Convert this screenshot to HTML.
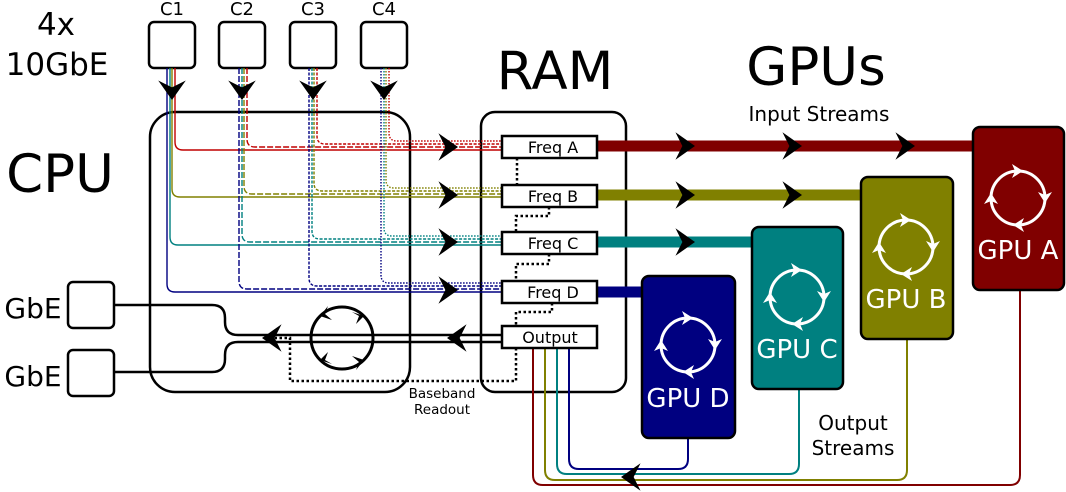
<!DOCTYPE html>
<html><head><meta charset="utf-8"><style>
html,body{margin:0;padding:0;background:#fff;}
svg{display:block;font-family:"DejaVu Sans","Liberation Sans",sans-serif;}
</style></head><body>
<svg width="1066" height="492" viewBox="0 0 1066 492" xmlns="http://www.w3.org/2000/svg">
<defs>
<path id="ar" d="M0,0 L-17,-12 L-11,0 L-17,12 Z" fill="#000"/>
<g id="cyc" fill="none">
<circle cx="0" cy="0" r="27" stroke="#fff" stroke-width="3"/>
<path d="M5,-27 L-6,-34 L-3,-27 L-6,-20 Z" fill="#fff"/>
<path d="M-27,-5 L-34,6 L-27,3 L-20,6 Z" fill="#fff"/>
<path d="M-5,27 L6,34 L3,27 L6,20 Z" fill="#fff"/>
<path d="M27,5 L34,-6 L27,-3 L20,-6 Z" fill="#fff"/>
</g>
<g id="cycb" fill="none">
<circle cx="0" cy="0" r="31" stroke="#000" stroke-width="3"/>
<path d="M-22,-22 L-14,-32 L-17,-24 L-10,-18 Z" fill="#000"/>
<path d="M22,-22 L10,-26 L17,-22 L14,-14 Z" fill="#000"/>
<path d="M-22,22 L-10,26 L-17,22 L-14,14 Z" fill="#000"/>
<path d="M22,22 L14,32 L17,24 L10,18 Z" fill="#000"/>
</g>
</defs>

<!-- labels -->
<text x="56" y="35" font-size="31" text-anchor="middle">4x</text>
<text x="57" y="75" font-size="31" text-anchor="middle">10GbE</text>
<text x="60" y="192" font-size="53" text-anchor="middle">CPU</text>
<text x="555" y="89" font-size="53" text-anchor="middle">RAM</text>
<text x="816" y="85" font-size="53" text-anchor="middle">GPUs</text>
<text x="819" y="121" font-size="20" text-anchor="middle">Input Streams</text>
<text x="33" y="318" font-size="28" text-anchor="middle">GbE</text>
<text x="33" y="386" font-size="28" text-anchor="middle">GbE</text>
<g font-size="18" text-anchor="middle">
<text x="172" y="15">C1</text>
<text x="242" y="15">C2</text>
<text x="313" y="15">C3</text>
<text x="384" y="15">C4</text>
</g>
<text x="442" y="398" font-size="13.5" text-anchor="middle">Baseband</text>
<text x="442" y="414" font-size="13.5" text-anchor="middle">Readout</text>
<text x="853" y="430" font-size="20" text-anchor="middle">Output</text>
<text x="853" y="455" font-size="20" text-anchor="middle">Streams</text>

<!-- CPU and RAM boxes -->
<rect x="150" y="112" width="260" height="280" rx="25" fill="none" stroke="#000" stroke-width="2.5"/>
<rect x="481" y="112" width="145" height="280" rx="14" fill="none" stroke="#000" stroke-width="2.5"/>

<!-- C boxes -->
<g fill="#fff" stroke="#000" stroke-width="2.5">
<rect x="149" y="22" width="46" height="46" rx="5"/>
<rect x="219" y="22" width="46" height="46" rx="5"/>
<rect x="290" y="22" width="46" height="46" rx="5"/>
<rect x="361" y="22" width="46" height="46" rx="5"/>
<rect x="68" y="282" width="46" height="46" rx="5"/>
<rect x="68" y="350" width="46" height="46" rx="5"/>
</g>

<!-- colored input lines -->
<g fill="none" stroke-width="1.4">
<g stroke="#c00000">
<path d="M175,68 V142 Q175,150 183,150 H502"/>
<path d="M247,68 V139 Q247,147 255,147 H502" stroke-dasharray="6,2"/>
<path d="M317,68 V136 Q317,144 325,144 H502" stroke-dasharray="3,1.5"/>
<path d="M389,68 V133 Q389,141 397,141 H502" stroke-dasharray="1.5,1.5"/>
</g>
<g stroke="#808000">
<path d="M172,68 V189 Q172,197 180,197 H502"/>
<path d="M244,68 V186 Q244,194 252,194 H502" stroke-dasharray="6,2"/>
<path d="M314,68 V183 Q314,191 322,191 H502" stroke-dasharray="3,1.5"/>
<path d="M386,68 V180 Q386,188 394,188 H502" stroke-dasharray="1.5,1.5"/>
</g>
<g stroke="#008080">
<path d="M170,68 V237 Q170,245 178,245 H502"/>
<path d="M242,68 V234 Q242,242 250,242 H502" stroke-dasharray="6,2"/>
<path d="M312,68 V231 Q312,239 320,239 H502" stroke-dasharray="3,1.5"/>
<path d="M384,68 V228 Q384,236 392,236 H502" stroke-dasharray="1.5,1.5"/>
</g>
<g stroke="#000080">
<path d="M167,68 V284 Q167,292 175,292 H502"/>
<path d="M239,68 V281 Q239,289 247,289 H502" stroke-dasharray="6,2"/>
<path d="M309,68 V278 Q309,286 317,286 H502" stroke-dasharray="3,1.5"/>
<path d="M381,68 V275 Q381,283 389,283 H502" stroke-dasharray="1.5,1.5"/>
</g>
</g>

<!-- down arrows -->
<use href="#ar" transform="translate(172,100) rotate(90) scale(1.15)"/>
<use href="#ar" transform="translate(242,100) rotate(90) scale(1.15)"/>
<use href="#ar" transform="translate(313,100) rotate(90) scale(1.15)"/>
<use href="#ar" transform="translate(384,100) rotate(90) scale(1.15)"/>
<!-- right arrows into RAM -->
<use href="#ar" transform="translate(458,147) scale(1.15)"/>
<use href="#ar" transform="translate(458,195) scale(1.15)"/>
<use href="#ar" transform="translate(458,242) scale(1.15)"/>
<use href="#ar" transform="translate(458,290) scale(1.15)"/>

<!-- thick input streams -->
<g stroke-width="11">
<line x1="597" y1="146" x2="975" y2="146" stroke="#800000"/>
<line x1="597" y1="195" x2="863" y2="195" stroke="#808000"/>
<line x1="597" y1="242" x2="753" y2="242" stroke="#008080"/>
<line x1="597" y1="292" x2="643" y2="292" stroke="#000080"/>
</g>
<use href="#ar" transform="translate(695,146) scale(1.15)"/>
<use href="#ar" transform="translate(802,146) scale(1.15)"/>
<use href="#ar" transform="translate(915,146) scale(1.15)"/>
<use href="#ar" transform="translate(695,195) scale(1.15)"/>
<use href="#ar" transform="translate(802,195) scale(1.15)"/>
<use href="#ar" transform="translate(695,242) scale(1.15)"/>

<!-- output stream lines -->
<g fill="none" stroke-width="2">
<path d="M533,348 V475 Q533,485 543,485 H1010 Q1020,485 1020,475 V290" stroke="#800000"/>
<path d="M545,348 V470 Q545,480 555,480 H897 Q907,480 907,470 V339" stroke="#808000"/>
<path d="M557,348 V464 Q557,474 567,474 H789 Q799,474 799,464 V389" stroke="#008080"/>
<path d="M569,348 V459 Q569,469 579,469 H678 Q688,469 688,459 V438" stroke="#000080"/>
</g>
<use href="#ar" transform="translate(621,477) rotate(180) scale(1.15)"/>

<!-- GPUs -->
<g stroke="#000" stroke-width="2.5">
<rect x="973" y="127" width="91" height="163" rx="7" fill="#800000"/>
<rect x="861" y="177" width="92" height="162" rx="7" fill="#808000"/>
<rect x="752" y="227" width="91" height="162" rx="7" fill="#008080"/>
<rect x="642" y="276" width="93" height="162" rx="7" fill="#000080"/>
</g>
<use href="#cyc" transform="translate(1018,198)"/>
<use href="#cyc" transform="translate(906,247)"/>
<use href="#cyc" transform="translate(797,297)"/>
<use href="#cyc" transform="translate(688,345)"/>
<g fill="#fff" font-size="26" text-anchor="middle">
<text x="1018" y="259">GPU A</text>
<text x="906" y="308">GPU B</text>
<text x="797" y="358">GPU C</text>
<text x="688" y="407">GPU D</text>
</g>

<!-- output / GbE lines -->
<g fill="none" stroke="#000" stroke-width="2.5">
<path d="M114,305 H212 Q225,305 225,318 V322 Q225,335 238,335 H502"/>
<path d="M114,372 H212 Q225,372 225,359 V355 Q225,342 238,342 H502"/>
</g>
<use href="#cycb" transform="translate(342,338)"/>
<use href="#ar" transform="translate(262,338) rotate(180) scale(1.15)"/>
<use href="#ar" transform="translate(447,338) rotate(180) scale(1.15)"/>

<!-- dotted baseband -->
<g fill="none" stroke="#000" stroke-width="2.5" stroke-dasharray="2.5,2.5">
<path d="M517,158 V185"/>
<path d="M549,207 V216 H516 V232"/>
<path d="M549,254 V264 H516 V281"/>
<path d="M552,303 V312 H516 V326"/>
<path d="M516,348 V381 H290 V338 H275"/>
</g>

<!-- Freq boxes -->
<g fill="#fff" stroke="#000" stroke-width="2.5">
<rect x="502" y="136" width="95" height="22"/>
<rect x="502" y="185" width="95" height="22"/>
<rect x="502" y="232" width="95" height="22"/>
<rect x="502" y="281" width="95" height="22"/>
<rect x="502" y="326" width="95" height="22"/>
</g>
<g font-size="16" text-anchor="middle">
<text x="553" y="153">Freq A</text>
<text x="553" y="202">Freq B</text>
<text x="553" y="249">Freq C</text>
<text x="553" y="298">Freq D</text>
<text x="550" y="343">Output</text>
</g>
</svg>
</body></html>
